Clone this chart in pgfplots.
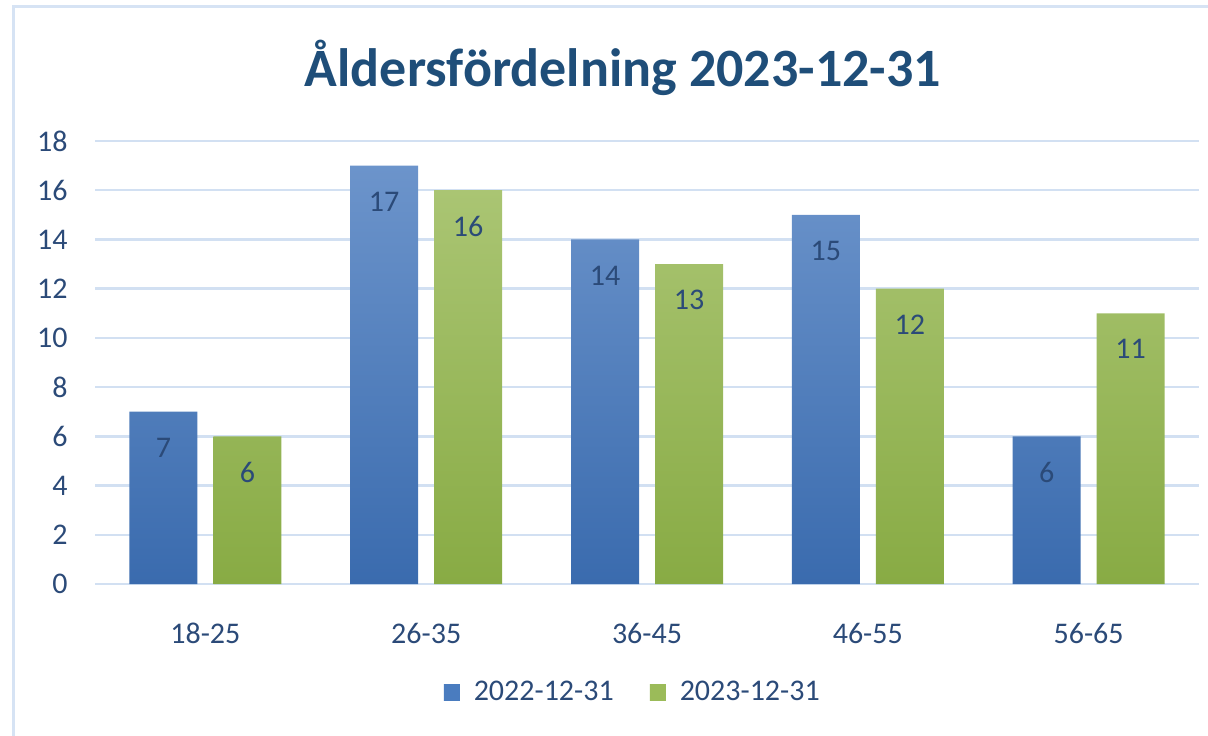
\documentclass[border=0pt]{standalone}
\usepackage{pgfplots}
\pgfplotsset{compat=1.18}
\usepackage{fontspec}
\setmainfont{Carlito}
\definecolor{txt}{HTML}{2B4A78}
\definecolor{ttl}{HTML}{1F4E79}
\definecolor{grd}{HTML}{D2E0F2}
\definecolor{frm}{HTML}{D6E3F4}
\definecolor{btop}{HTML}{6C94CB}
\definecolor{bbot}{HTML}{3A6BAE}
\definecolor{bmid}{HTML}{4A7CBF}
\definecolor{gtop}{HTML}{AAC573}
\definecolor{gbot}{HTML}{88AB44}
\definecolor{gmid}{HTML}{9BBB59}
\begin{document}
\begin{tikzpicture}
\useasboundingbox (-47.5pt,-75.5pt) rectangle (556.5pt,292pt);
\draw[frm, line width=1.5pt] (-40.5pt,-80pt) -- (-40.5pt,288.5pt) -- (560pt,288.5pt);
\begin{axis}[
  at={(0pt,0pt)}, anchor=south west,
  scale only axis, width=552pt, height=221.5pt,
  xmin=-0.5, xmax=4.5, ymin=0, ymax=18,
  ytick={0,2,...,18},
  xtick={0,1,2,3,4},
  xticklabels={18-25,26-35,36-45,46-55,56-65},
  ymajorgrids, major grid style={grd, line width=1.2pt},
  axis line style={draw=none}, tick style={draw=none},
  /pgf/number format/assume math mode=true,
  ticklabel style={font=\fontsize{15}{18}\selectfont, text=txt},
  yticklabel style={anchor=east, inner sep=0pt, xshift=-13.5pt},
  xticklabel style={anchor=base, inner sep=0pt, yshift=-25.5pt},
  ybar, bar width=34pt,
  nodes near coords,
  every node near coord/.append style={font=\fontsize{15}{18}\selectfont, text=txt, anchor=center, yshift=-18pt},
  legend columns=2,
  legend style={at={(0.488,-0.2438)}, anchor=center, draw=none, fill=none,
    font=\fontsize{15}{18}\selectfont, text=txt,
    /tikz/every odd column/.append style={column sep=5pt},
    /tikz/every even column/.append style={column sep=16pt}},
]
\addplot[bar shift=-21pt, draw=none, top color=btop, bottom color=bbot,
  legend image code/.code={\fill[top color=bmid, bottom color=bmid] (0pt,-4pt) rectangle (8pt,4pt);}]
  coordinates {(0,7) (1,17) (2,14) (3,15) (4,6)};
\addlegendentry{2022-12-31}
\addplot[bar shift=21pt, draw=none, top color=gtop, bottom color=gbot,
  legend image code/.code={\fill[top color=gmid, bottom color=gmid] (0pt,-4pt) rectangle (8pt,4pt);}]
  coordinates {(0,6) (1,16) (2,13) (3,12) (4,11)};
\addlegendentry{2023-12-31}
\end{axis}
\node[anchor=base, inner sep=0pt, text=ttl, font=\fontsize{27}{32}\selectfont\bfseries] at (264pt,248.5pt) {Åldersfördelning 2023-12-31};
\end{tikzpicture}
\end{document}
